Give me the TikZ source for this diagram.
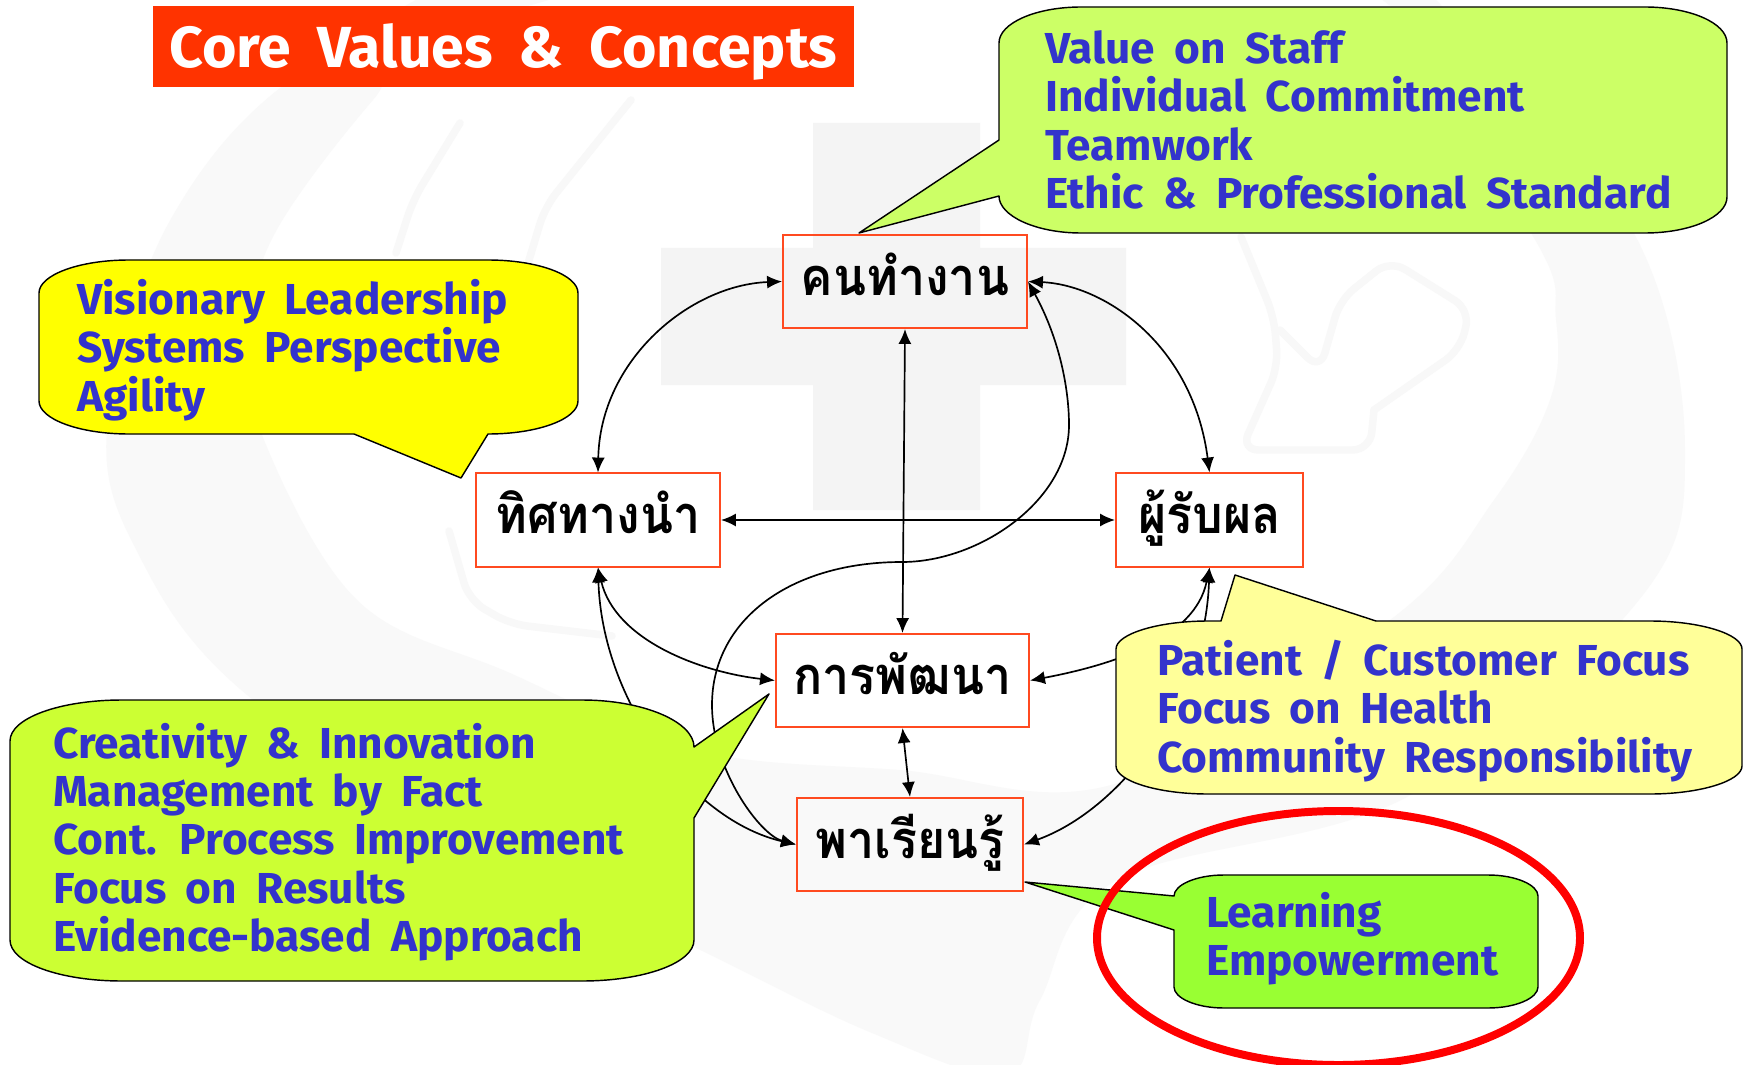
\documentclass[tikz,border=0pt]{standalone}
\usepackage{fontspec}
\usetikzlibrary{arrows.meta}
\newfontfamily\thaifont[Script=Thai,FakeStretch=0.925]{Loma}
\newfontfamily\cmfont[WordSpace=1.85,FakeStretch=1.02]{Fira Sans}
\definecolor{wmgrey}{HTML}{F9F9F9}
\definecolor{crossgrey}{HTML}{F4F4F4}
\definecolor{handgrey}{HTML}{F8F8F8}
\definecolor{txtblue}{HTML}{3333CC}
\definecolor{titlered}{HTML}{FF3300}
\definecolor{boxred}{HTML}{FF4A20}
\definecolor{cTop}{HTML}{CCFF66}
\definecolor{cLeft}{HTML}{CCFF33}
\definecolor{cYellow}{HTML}{FFFF00}
\definecolor{cPale}{HTML}{FFFF99}
\definecolor{cBright}{HTML}{99FF33}
\tikzset{
  conn/.style={line width=1.35pt,black,{Latex[length=12pt,width=10.5pt]}-{Latex[length=12pt,width=10.5pt]}},
  bubble/.style={draw=black,line width=1.15pt,line join=round},
  bubbletext/.style={text=txtblue,font=\fontsize{34.8}{38.8}\selectfont\cmfont\bfseries,align=left,anchor=west,inner sep=0pt},
  thaibox/.style={draw=boxred,line width=1.6pt,inner sep=0pt,text=black,minimum height=74.7pt,
    font=\fontsize{42}{48}\selectfont\thaifont\bfseries,text height=26pt,text depth=4.3pt},
  hand/.style={draw=handgrey,line width=6pt,line cap=round,line join=round,rounded corners=14pt}
}
\begin{document}
\begin{tikzpicture}[x=0.8bp,y=-0.8bp]
\useasboundingbox (0,0) rectangle (1750,1065);
\fill[white] (0,0) rectangle (1750,1065);
% watermark
\begin{scope}
\clip (0,0) rectangle (1750,1065);
\fill[wmgrey,even odd rule]
  plot[smooth cycle,tension=0.6] coordinates {(600,-50)(1300,-50)(1490,60)(1639,243)(1685,450)(1639,600)(1407,797)(1117,880)(1040,1000)(1006,1075)(872,1033)(694,947)(450,830)(240,689)(143,563)(107,430)(172,217)(320,60)}
  plot[smooth cycle,tension=0.6] coordinates {(450,30)(900,-70)(1350,-20)(1531,233)(1556,320)(1550,400)(1494,500)(1390,620)(1118,783)(900,770)(694,750)(510,673)(357,600)(260,430)(250,330)(275,233)(373,100)};
\fill[crossgrey] (661,248) rectangle (813,385) (980,248) rectangle (1126,385) (813,123) rectangle (980,510);
\draw[hand] (1241,237) -- (1274,317) -- (1278,367) -- (1241,450) -- (1370,450) -- (1374,410);
\draw[hand] (1280,330) -- (1320,370) -- (1340,300) -- (1390,260) -- (1470,310) -- (1460,350) -- (1374,410);
\draw[hand] (460,123) -- (413,200) -- (396,253);
\draw[hand] (631,100) -- (545,207) -- (520,290);
\draw[hand] (449,531) -- (469,600) -- (510,624) -- (612,636);
\end{scope}
% boxes
\node[thaibox,minimum width=195.9pt] (nTop) at (905,281.5) {คนทำงาน};
\node[thaibox,minimum width=195.9pt] (nLeft) at (598,520) {ทิศทางนำ};
\node[thaibox,minimum width=150.2pt] (nRight) at (1209.5,520) {ผู้รับผล};
\node[thaibox,minimum width=203.2pt] (nMid) at (902.5,680.5) {การพัฒนา};
\node[thaibox,minimum width=181.5pt] (nBot) at (910,844.5) {พาเรียนรู้};
% connectors
\draw[conn] (nTop.west) .. controls (690,285) and (600,360) .. (nLeft.north);
\draw[conn] (nTop.east) .. controls (1105,285) and (1193,345) .. (nRight.north);
\draw[conn] (nTop.south) -- (nMid.north);
\draw[conn] (nLeft.east) -- (nRight.west);
\draw[conn] (nMid.south) -- (nBot.north);
\draw[conn] (nLeft.south) .. controls (615,640) and (700,672) .. (nMid.west);
\draw[conn] (nLeft.south) .. controls (602,700) and (690,820) .. (nBot.west);
\draw[conn] (nRight.south) .. controls (1195,639) and (1112,665) .. (nMid.east);
\draw[conn] (nRight.south) .. controls (1205,700) and (1120,810) .. (nBot.east);
\draw[conn] (nTop.east) .. controls (1060,340) and (1069,390) .. (1069,425)
  .. controls (1069,500) and (980,562) .. (902,562)
  .. controls (790,562) and (712,620) .. (712,705)
  .. controls (712,770) and (760,835) .. (nBot.west);
% title
\node[fill=titlered,minimum width=562.8pt,minimum height=64.6pt,inner sep=0pt,text=white,
  text height=35.5pt,text depth=1.5pt,
  font=\fontsize{46.5}{52}\selectfont\cmfont\bfseries] (title) at (503.5,46.7) {Core Values \& Concepts};
% callouts
\draw[bubble,fill=cTop] (1081,7) -- (1645,7) .. controls +(45,0) and +(0,-20) .. (1727,43) -- (1727,197)
  .. controls +(0,20) and +(45,0) .. (1645,233) -- (1081,233) .. controls +(-45,0) and +(0,20) .. (999,196)
  -- (859,233) -- (999,140) -- (999,43) .. controls +(0,-20) and +(-45,0) .. (1081,7) -- cycle;
\draw[bubble,fill=cYellow] (129,260) -- (488,260) .. controls +(50,0) and +(0,-18) .. (578,293) -- (578,401)
  .. controls +(0,18) and +(50,0) .. (488,434) -- (461,478) -- (354,434) -- (129,434)
  .. controls +(-50,0) and +(0,18) .. (39,401) -- (39,293) .. controls +(0,-18) and +(-50,0) .. (129,260) -- cycle;
\draw[bubble,fill=cPale] (1208,621) -- (1221,621) -- (1235,575) -- (1376,621) -- (1650,621)
  .. controls +(50,0) and +(0,-15) .. (1742,649) -- (1742,766) .. controls +(0,15) and +(50,0) .. (1650,794)
  -- (1208,794) .. controls +(-50,0) and +(0,15) .. (1116,766) -- (1116,649) .. controls +(0,-15) and +(-50,0) .. (1208,621) -- cycle;
\draw[bubble,fill=cLeft] (122,700) -- (582,700) .. controls +(62,0) and +(0,-25) .. (694,747) -- (769,694) -- (694,818)
  -- (694,940) .. controls +(0,23) and +(62,0) .. (582,981) -- (122,981) .. controls +(-62,0) and +(0,23) .. (10,940)
  -- (10,741) .. controls +(0,-23) and +(-62,0) .. (122,700) -- cycle;
\draw[bubble,fill=cBright] (1224,875) -- (1488,875) .. controls +(28,0) and +(0,-11) .. (1538,896) -- (1538,987)
  .. controls +(0,11) and +(28,0) .. (1488,1008) -- (1224,1008) .. controls +(-28,0) and +(0,11) .. (1174,987)
  -- (1174,930) -- (1025,882) -- (1174,896) .. controls +(0,-11) and +(-28,0) .. (1224,875) -- cycle;
% callout texts
\node[bubbletext] (tTop) at (1045,120) {Value on Staff\\Individual Commitment\\Teamwork\\Ethic \& Professional Standard};
\node[bubbletext] (tYellow) at (77,350) {Visionary Leadership\\Systems Perspective\\Agility};
\node[bubbletext] (tPale) at (1157,711) {Patient / Customer Focus\\Focus on Health\\Community Responsibility};
\node[bubbletext] (tLeft) at (53,842) {Creativity \& Innovation\\Management by Fact\\Cont. Process Improvement\\Focus on Results\\Evidence-based Approach};
\node[bubbletext] (tBright) at (1206,939) {Learning\\Empowerment};
% highlight
\draw[red,line width=6.4pt] (1338.5,938) ellipse [x radius=241.5,y radius=127];
\end{tikzpicture}
\end{document}
